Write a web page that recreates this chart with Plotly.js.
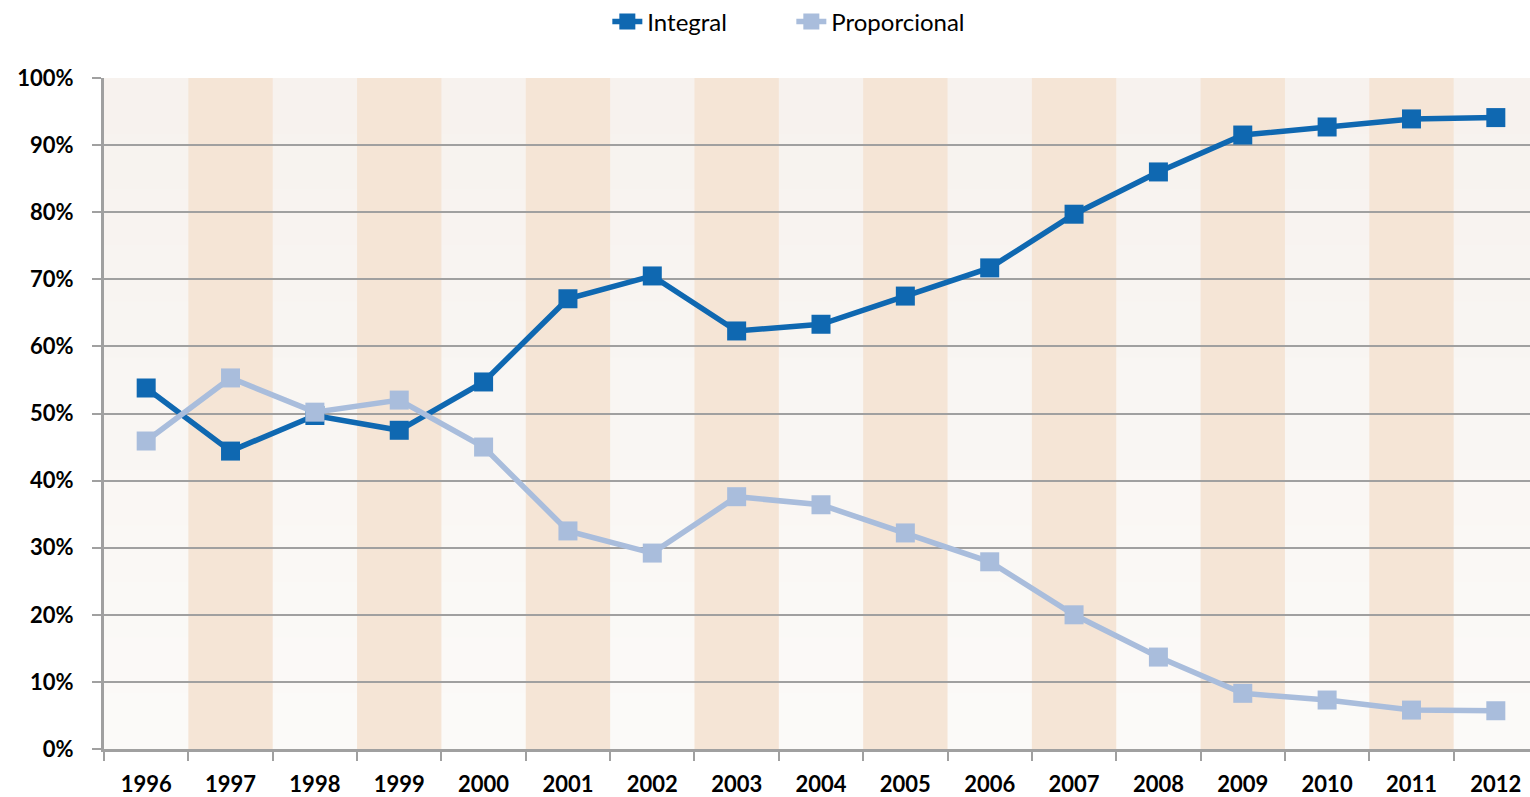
<!DOCTYPE html>
<html>
<head>
<meta charset="utf-8">
<script src="https://cdn.plot.ly/plotly-3.0.1.min.js"></script>
<style>
html,body{margin:0;padding:0;overflow:hidden;background:#fff;}
#chart{width:1540px;height:797px;}
</style>
</head>
<body>
<div id="chart"></div>
<script>
const years = ['1996','1997','1998','1999','2000','2001','2002','2003','2004','2005','2006','2007','2008','2009','2010','2011','2012'];
const integral = [53.8,44.4,49.7,47.5,54.7,67.1,70.5,62.3,63.3,67.5,71.7,79.7,86.0,91.5,92.7,93.9,94.1];
const proporcional = [45.9,55.3,50.2,52.0,45.0,32.5,29.2,37.6,36.4,32.2,27.9,20.0,13.7,8.3,7.3,5.8,5.7];
const yTicks = [0,10,20,30,40,50,60,70,80,90,100];
const yTickLabels = yTicks.map(v => v + '%');

const shapes = [];
// vertical gradient for light background
const nStripes = 12;
const topColor = [247,242,238], botColor = [251,250,248];
for (let i = 0; i < nStripes; i++) {
  const t = i / (nStripes - 1);
  const c = botColor.map((b, k) => Math.round(b + (topColor[k] - b) * t));
  shapes.push({type:'rect', xref:'paper', yref:'y', x0:0, x1:1,
    y0: 100 * i / nStripes, y1: 100 * (i + 1) / nStripes,
    fillcolor:`rgb(${c[0]},${c[1]},${c[2]})`, line:{width:0}, layer:'below'});
}
// tan bands for odd-index years
years.forEach((y, i) => {
  if (i % 2 === 1) {
    shapes.push({type:'rect', xref:'x', yref:'y', x0:i-0.5, x1:i+0.5, y0:0, y1:100,
      fillcolor:'#f5e5d6', line:{width:0}, layer:'below'});
  }
});

const traces = [
  {x: years, y: integral, name:'Integral', type:'scatter', mode:'lines+markers',
   line:{color:'#0f68b1', width:5.5}, marker:{symbol:'square', size:19, color:'#0f68b1'}},
  {x: years, y: proporcional, name:'Proporcional', type:'scatter', mode:'lines+markers',
   line:{color:'#a9bddc', width:5.5}, marker:{symbol:'square', size:19, color:'#a9bddc'}}
];

const layout = {
  width:1540, height:797,
  margin:{l:104, r:2, t:78, b:48, autoexpand:false},
  paper_bgcolor:'#ffffff',
  plot_bgcolor:'#f9f6f3',
  font:{family:'Lato, "Open Sans", sans-serif', color:'#000'},
  showlegend:true,
  legend:{orientation:'h', x:0.351, xanchor:'left', y:1.0835, yanchor:'middle',
    entrywidth:139, entrywidthmode:'pixels',
    font:{size:24, family:'Lato, sans-serif'}, bgcolor:'rgba(0,0,0,0)'},
  xaxis:{type:'category', showgrid:false, zeroline:false,
    showline:true, linecolor:'#a0a0a0', linewidth:3,
    ticks:'outside', tickson:'boundaries', ticklen:9, tickwidth:2, tickcolor:'#a0a0a0',
    ticklabelstandoff:14,
    tickfont:{size:22, family:'Lato, sans-serif', weight:'bold'}, range:[-0.5,16.5]},
  yaxis:{range:[0,100], tickvals:yTicks, ticktext:yTickLabels,
    showgrid:true, gridcolor:'#a0a0a0', gridwidth:2, zeroline:false,
    showline:true, linecolor:'#a0a0a0', linewidth:3,
    ticks:'outside', ticklen:9, tickwidth:2, tickcolor:'#a0a0a0',
    ticklabelstandoff:14,
    tickfont:{size:22, family:'Lato, sans-serif', weight:'bold'}},
  shapes: shapes
};

Plotly.newPlot('chart', traces, layout, {displayModeBar:false, staticPlot:true});
</script>
</body>
</html>
